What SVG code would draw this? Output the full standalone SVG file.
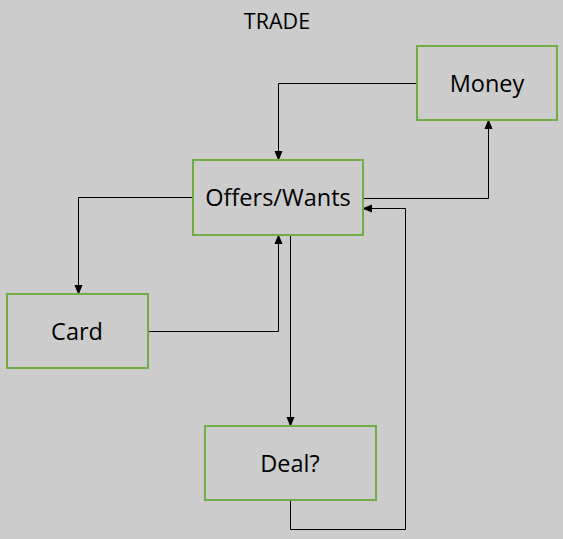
<svg xmlns="http://www.w3.org/2000/svg" width="563" height="539" viewBox="0 0 563 539">
<defs>
<marker id="ah" markerWidth="10" markerHeight="10" refX="9" refY="5" orient="auto" markerUnits="userSpaceOnUse">
<path d="M0,1 L10,5 L0,9 z" fill="#000"/>
</marker>
<style>
.box{fill:none;stroke:#70AD47;stroke-width:2}
.lbl{font-family:"Open Sans","Liberation Sans",sans-serif;font-size:23.5px;fill:#000;text-anchor:middle;dominant-baseline:central}
.c{fill:none;stroke:#000;stroke-width:1;marker-end:url(#ah)}
</style>
</defs>
<rect width="563" height="539" fill="#CCCCCC"/>
<text x="277" y="20" class="lbl" style="font-size:21.5px">TRADE</text>
<g id="connectors">
<path class="c" d="M417,83.5 H278.5 V160"/>
<path class="c" d="M363,198.5 H488.5 V120"/>
<path class="c" d="M193,197.5 H78.5 V294"/>
<path class="c" d="M148,331.5 H278.5 V235"/>
<path class="c" d="M290.5,235 V426"/>
<path class="c" d="M290.5,500 V529.5 H405.5 V208.5 H363"/>
</g>
<g id="money"><rect class="box" x="417" y="46" width="140" height="74"/><text class="lbl" x="487" y="83">Money</text></g>
<g id="offers"><rect class="box" x="193" y="160" width="170" height="75"/><text class="lbl" x="278" y="197">Offers/Wants</text></g>
<g id="card"><rect class="box" x="7" y="294" width="141" height="74"/><text class="lbl" x="77" y="331">Card</text></g>
<g id="deal"><rect class="box" x="205" y="426" width="171" height="74"/><text class="lbl" x="290" y="463">Deal?</text></g>
</svg>
